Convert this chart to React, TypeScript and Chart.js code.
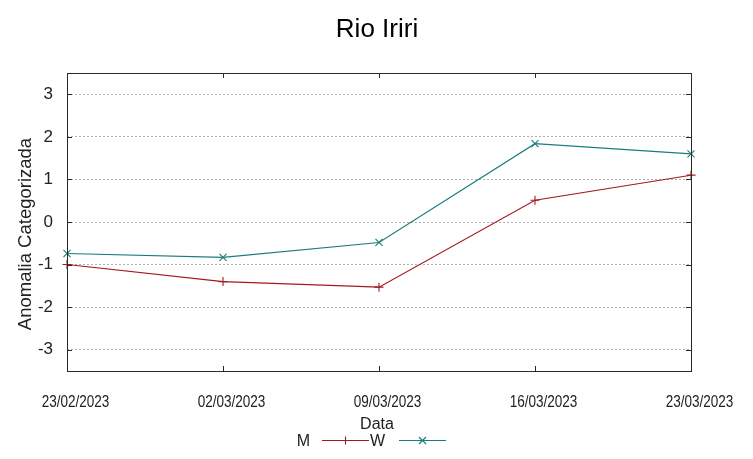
import React, { useEffect, useRef } from "react";
import { Chart, registerables } from "chart.js";

Chart.register(...registerables);

const chartTitle = "Rio Iriri";
const xTitle = "Data";
const yTitle = "Anomalia Categorizada";
const dates = ["23/02/2023", "02/03/2023", "09/03/2023", "16/03/2023", "23/03/2023"];
const seriesM = [-1.0, -1.4, -1.53, 0.51, 1.1];
const seriesW = [-0.74, -0.83, -0.48, 1.84, 1.6];
const yTickValues = [-3, -2, -1, 0, 1, 2, 3];
const yMin = -3.5;
const yMax = 3.5;

const colorM = "#a3191d";
const colorW = "#1b7c7c";
const FONT = "'Liberation Sans', Arial, sans-serif";

const overlay = {
  id: "overlay",
  afterDatasetsDraw(chart: any) {
    const { ctx, chartArea } = chart;
    const { left, right, top, bottom } = chartArea;
    ctx.save();
    // frame
    ctx.strokeStyle = "#2a2a2a";
    ctx.lineWidth = 1;
    ctx.setLineDash([]);
    ctx.strokeRect(Math.round(left) + 0.5, Math.round(top) + 0.5, Math.round(right - left), Math.round(bottom - top));
    // y tick marks
    const ys = chart.scales.y;
    ys.ticks.forEach((t: any) => {
      const py = Math.round(ys.getPixelForValue(t.value)) + 0.5;
      ctx.beginPath();
      ctx.moveTo(left, py);
      ctx.lineTo(left + 5, py);
      ctx.moveTo(right, py);
      ctx.lineTo(right - 5, py);
      ctx.stroke();
    });
    const xs = chart.scales.x;
    const xl = xs.getLabels();
    xs.ticks.forEach((_t: any, i: number) => {
      const px = Math.round(xs.getPixelForTick(i)) + 0.5;
      ctx.beginPath();
      ctx.moveTo(px, bottom);
      ctx.lineTo(px, bottom - 5);
      ctx.moveTo(px, top);
      ctx.lineTo(px, top + 5);
      ctx.stroke();
      // x tick label (condensed)
      ctx.save();
      ctx.translate(px + 8, 407);
      ctx.scale(0.82, 1);
      ctx.font = `16.5px ${FONT}`;
      ctx.fillStyle = "#222";
      ctx.textAlign = "center";
      ctx.textBaseline = "alphabetic";
      ctx.fillText(String(xl[i]), 0, 0);
      ctx.restore();
    });
    // title
    ctx.fillStyle = "#000";
    ctx.textAlign = "center";
    ctx.textBaseline = "alphabetic";
    ctx.font = `26px ${FONT}`;
    ctx.fillText(chartTitle, 377, 37);
    // y title
    ctx.save();
    ctx.translate(26, 234);
    ctx.rotate(-Math.PI / 2);
    ctx.font = `18.5px ${FONT}`;
    ctx.textBaseline = "middle";
    ctx.fillStyle = "#222";
    ctx.fillText(yTitle, 0, 0);
    ctx.restore();
    // x title
    ctx.font = `16px ${FONT}`;
    ctx.fillStyle = "#222";
    ctx.textAlign = "center";
    ctx.textBaseline = "alphabetic";
    ctx.fillText(xTitle, 377, 429);
    // legend
    const items = [
      { label: chart.data.datasets[0].label, color: colorM, textRight: 310, x0: 322, x1: 369, mark: "plus" },
      { label: chart.data.datasets[1].label, color: colorW, textRight: 385, x0: 399, x1: 446, mark: "x" },
    ];
    const ly = 440.5;
    items.forEach((it) => {
      ctx.fillStyle = "#222";
      ctx.textAlign = "right";
      ctx.fillText(it.label, it.textRight, 446);
      ctx.strokeStyle = it.color;
      ctx.lineWidth = 1.1;
      ctx.beginPath();
      ctx.moveTo(it.x0, ly);
      ctx.lineTo(it.x1, ly);
      ctx.stroke();
      const cx = (it.x0 + it.x1) / 2;
      ctx.beginPath();
      if (it.mark === "plus") {
        ctx.moveTo(cx - 4, ly);
        ctx.lineTo(cx + 4, ly);
        ctx.moveTo(cx, ly - 4);
        ctx.lineTo(cx, ly + 4);
      } else {
        ctx.moveTo(cx - 3.5, ly - 3.5);
        ctx.lineTo(cx + 3.5, ly + 3.5);
        ctx.moveTo(cx - 3.5, ly + 3.5);
        ctx.lineTo(cx + 3.5, ly - 3.5);
      }
      ctx.stroke();
    });
    ctx.restore();
  },
};

export default function App() {
  const ref = useRef<HTMLCanvasElement | null>(null);
  useEffect(() => {
    if (!ref.current) return;
    const chart = new Chart(ref.current, {
      type: "line",
      data: {
        labels: dates,
        datasets: [
          {
            label: "M",
            data: seriesM,
            borderColor: colorM,
            backgroundColor: colorM,
            borderWidth: 1.1,
            pointStyle: "cross",
            pointRadius: 4.5,
            pointBorderWidth: 1.1,
            tension: 0,
          },
          {
            label: "W",
            data: seriesW,
            borderColor: colorW,
            backgroundColor: colorW,
            borderWidth: 1.1,
            pointStyle: "crossRot",
            pointRadius: 5,
            pointBorderWidth: 1.1,
            tension: 0,
          },
        ],
      },
      options: {
        responsive: false,
        animation: false,
        layout: { padding: { left: 0, right: 62, top: 73, bottom: 0 } },
        plugins: { legend: { display: false }, title: { display: false }, tooltip: { enabled: false } },
        scales: {
          x: {
            type: "category",
            offset: false,
            grid: { display: false, drawTicks: false },
            border: { display: false },
            afterFit: (s: any) => {
              s.height = 88;
            },
            ticks: {
              display: false,
              autoSkip: false,
              maxRotation: 0,
            },
          },
          y: {
            min: yMin,
            max: yMax,
            afterFit: (s: any) => {
              s.width = 67;
            },
            afterBuildTicks: (s: any) => {
              s.ticks = yTickValues.map((v) => ({ value: v }));
            },
            grid: { color: "#b0b0b0", lineWidth: 1, drawTicks: false },
            border: { display: false, dash: [2, 2] },
            ticks: {
              padding: 14,
              color: "#222",
              font: { family: FONT, size: 17 },
              callback: (v: any) => String(v),
            },
          },
        },
      },
      plugins: [overlay],
    });
    return () => chart.destroy();
  }, []);
  return (
    <div style={{ position: "absolute", left: 0, top: 0, width: 753, height: 459, background: "#fff" }}>
      <canvas ref={ref} width={753} height={459} style={{ width: 753, height: 459, display: "block" }} />
    </div>
  );
}
